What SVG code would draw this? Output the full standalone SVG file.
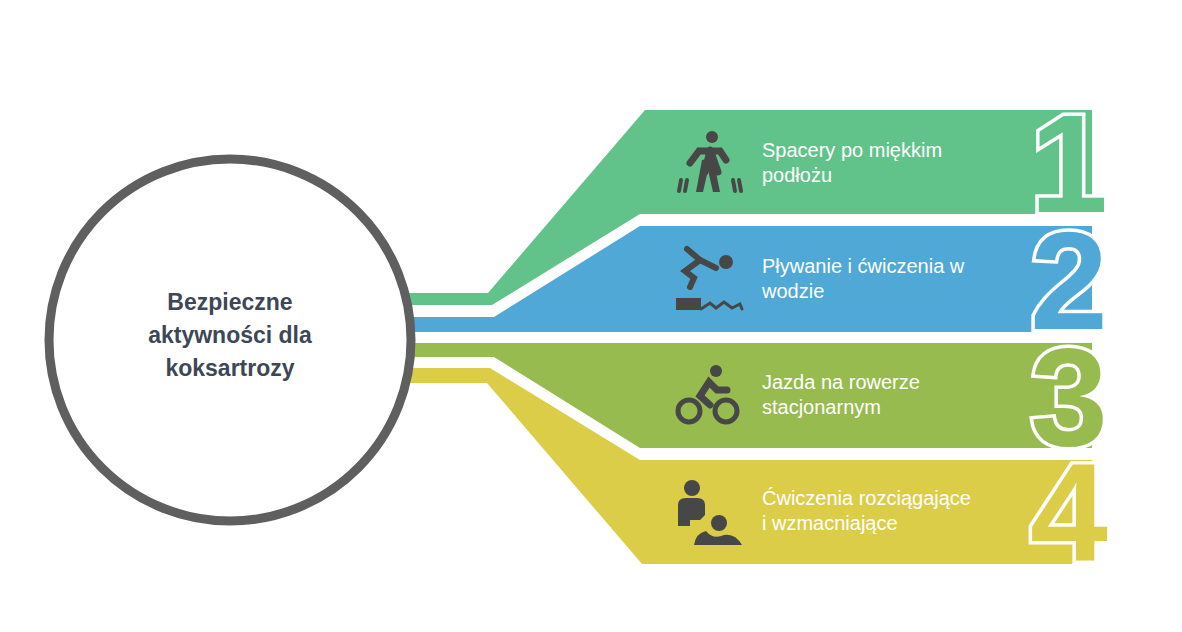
<svg xmlns="http://www.w3.org/2000/svg" width="1182" height="632" viewBox="0 0 1182 632">
<style>
.lbl{font-family:"Liberation Sans",Arial,sans-serif;font-size:20px;fill:#fff}
.num{font-family:"Liberation Sans",Arial,sans-serif;font-weight:bold;font-size:140px;stroke:#fff;stroke-width:7;paint-order:stroke;stroke-linejoin:miter}
.ctr{font-family:"Liberation Sans",Arial,sans-serif;font-weight:bold;font-size:23px;fill:#3d4756}
.ic{fill:#474747}
.ics{fill:none;stroke:#474747;stroke-linecap:round}
</style>
<rect width="1182" height="632" fill="#fff"/>
<g id="connectors">
<path d="M645,110 H1092 V214 H640 L492,305 H406 L404,293 H488 Z" fill="#62c38a"/>
<path d="M640,226 H1092 V332 H410 L409,317 H494 Z" fill="#4fa8d6"/>
<path d="M410,343 H1092 V448 H640 L494,357 H409 Z" fill="#97bb4f"/>
<path d="M406,368 H490 L640,460 H1092 V564 H642 L487,383 H403 Z" fill="#dccd48"/>
</g>
<g id="center">
<circle cx="230" cy="340" r="181" fill="#fff" stroke="#5f5f5f" stroke-width="9"/>
<text class="ctr" x="230" y="310" text-anchor="middle">Bezpieczne</text>
<text class="ctr" x="230" y="343" text-anchor="middle">aktywności dla</text>
<text class="ctr" x="230" y="376" text-anchor="middle">koksartrozy</text>
</g>
<g id="n1">
<text class="num" x="1030" y="212" fill="#62c38a">1</text>
<text class="lbl" x="762" y="157">Spacery po miękkim</text>
<text class="lbl" x="762" y="182">podłożu</text>
<circle class="ic" cx="712" cy="137" r="6"/>
<path class="ics" stroke-width="7" d="M690,163 L699,151 H720 L726,160 M710,150 L705,172 M712,155 L718,172"/>
<path class="ics" stroke-width="4" d="M679,191 L681,180 M685,191 L687,180 M735,191 L733,180 M741,191 L739,180"/>
<path class="ic" d="M702,160 L696,192 H703 L708,170 L713,192 H720 L713,158 Z"/>
</g>
<g id="n2">
<text class="num" x="1030" y="329" fill="#4fa8d6">2</text>
<text class="lbl" x="762" y="273">Pływanie i ćwiczenia w</text>
<text class="lbl" x="762" y="298">wodzie</text>
<circle class="ic" cx="726" cy="262" r="7"/>
<path class="ics" stroke-width="6" d="M687,249 L700,260 L685,271 L694,278 L690,287"/>
<path class="ics" stroke-width="6" d="M700,260 L716,268"/>
<rect class="ic" x="676" y="298" width="25" height="12"/>
<path class="ics" stroke-width="3" d="M701,309 L710,303 L716,308 L724,302 L732,308 L740,304 L742,309"/>
</g>
<g id="n3">
<text class="num" x="1030" y="445" fill="#97bb4f">3</text>
<text class="lbl" x="762" y="389">Jazda na rowerze</text>
<text class="lbl" x="762" y="414">stacjonarnym</text>
<circle class="ic" cx="716" cy="371" r="6"/>
<circle class="ics" stroke-width="5" cx="689" cy="411" r="11"/>
<circle class="ics" stroke-width="5" cx="726" cy="411" r="11"/>
<path class="ics" stroke-width="7" d="M727,390 H717 L709,382 L700,396 L710,405"/>
</g>
<g id="n4">
<text class="num" x="1030" y="561" fill="#dccd48">4</text>
<text class="lbl" x="762" y="505">Ćwiczenia rozciągające</text>
<text class="lbl" x="762" y="530">i wzmacniające</text>
<circle class="ic" cx="692" cy="488" r="8"/>
<path class="ic" d="M678,526 V505 Q678,498 686,498 H697 Q705,498 705,505 V515 L700,520 H690 V526 Z"/>
<circle class="ic" cx="719" cy="523" r="8"/>
<path class="ic" d="M694,545 Q696,533 706,531 Q713,540 724,535 Q735,533 742,545 Z"/>
</g>
</svg>
